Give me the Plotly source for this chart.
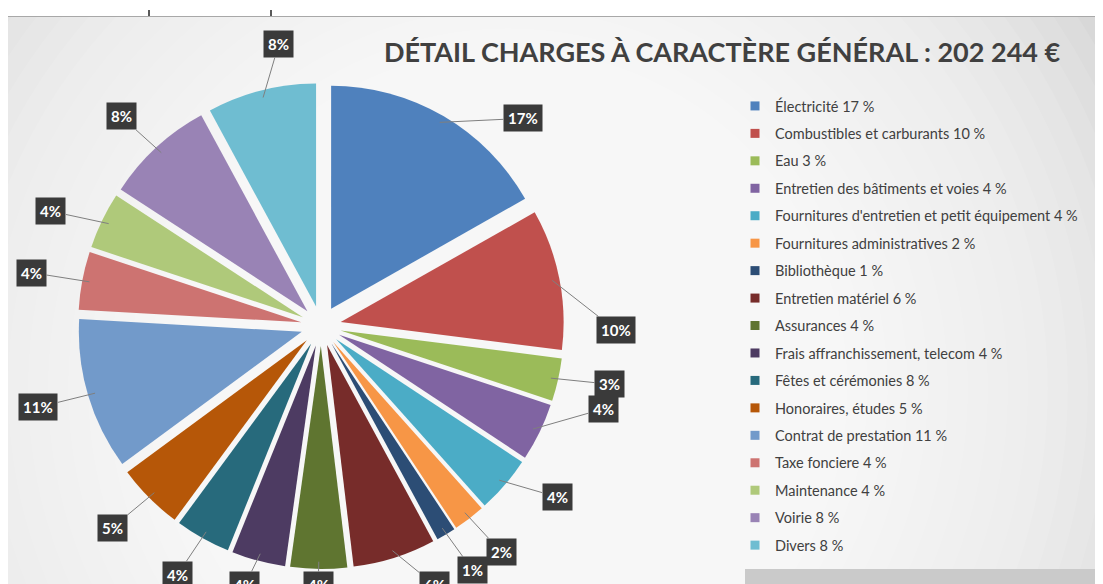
import math
import plotly.graph_objects as go

# ---------------- data ----------------
categories = [
    "Électricité", "Combustibles et carburants", "Eau", "Entretien des bâtiments et voies",
    "Fournitures d'entretien et petit équipement", "Fournitures administratives", "Bibliothèque",
    "Entretien matériel", "Assurances", "Frais affranchissement, telecom", "Fêtes et cérémonies",
    "Honoraires, études", "Contrat de prestation", "Taxe fonciere", "Maintenance", "Voirie", "Divers",
]
shares = [16.8, 10.2, 3.1, 4.2, 4.1, 2.3, 1.4, 6.0, 4.1, 3.9, 4.0, 4.8, 11.0, 4.2, 4.1, 7.9, 7.9]
legend_pct = [17, 10, 3, 4, 4, 2, 1, 6, 4, 4, 8, 5, 11, 4, 4, 8, 8]
title_text = "DÉTAIL CHARGES À CARACTÈRE GÉNÉRAL : 202 244 €"

# ---------------- style ----------------
colors = ["#4F81BD", "#C0504D", "#9BBB59", "#8064A2", "#4BACC6", "#F79646", "#2C4D75",
          "#772C2A", "#5F7530", "#4D3B62", "#276A7C", "#B65708", "#729ACA", "#CD7371",
          "#AFC97A", "#9983B5", "#6FBDD1"]
label_nudge = [13, 12, -1, -9, -4, 0, 0, -5, 0, 0, 0, 0, 0, 0, -2, 0, 6]

W, H = 1103, 584
CX, CY, R = 313, 318, 243          # pie centre / radius in pixels
RX, RY, YMAX = 295, 285, 577        # label ellipse and bottom clamp
PULL = 0.09

def px(x):
    return x / W

def py(y):
    return 1 - y / H

fig = go.Figure()

fig.add_trace(go.Pie(
    labels=categories, values=shares, sort=False, direction="clockwise", rotation=0,
    marker=dict(colors=colors, line=dict(width=0)),
    pull=[PULL] * len(shares), textinfo="none", hoverinfo="label+percent",
    showlegend=False,
    domain=dict(x=[px(CX - R), px(CX + R)], y=[py(CY + R), py(CY - R)]),
))

# legend entries (dummy traces so the spacing can be controlled)
for i, (c, p) in enumerate(zip(categories, legend_pct)):
    fig.add_trace(go.Scatter(
        x=[None], y=[None], mode="markers", name=f"{c} {p} %",
        marker=dict(symbol="square", size=9, color=colors[i]),
        legendgroup=f"g{i}", showlegend=True,
    ))

# data labels with leader lines
total = sum(shares)
annotations = []
cum = 0.0
for i, v in enumerate(shares):
    mid = (cum + v / 2) / total * 360
    cum += v
    ang = math.radians(mid)
    axp = CX + R * 0.97 * math.sin(ang)
    ayp = CY - R * 0.97 * math.cos(ang)
    la = math.radians(mid + label_nudge[i])
    lx = CX + RX * math.sin(la)
    ly = min(CY - RY * math.cos(la), YMAX)
    annotations.append(dict(
        x=px(axp), y=py(ayp), xref="paper", yref="paper",
        ax=lx - axp, ay=ly - ayp, axref="pixel", ayref="pixel",
        text=f"<b>{round(v / total * 100)}%</b>",
        showarrow=True, arrowhead=0, arrowwidth=1, arrowcolor="#7f7f7f", standoff=0,
        font=dict(family="Lato", size=15, color="white"),
        bgcolor="#3a3a3a", borderpad=4,
    ))

annotations.append(dict(
    x=px(714), y=py(44), xref="paper", yref="paper", showarrow=False,
    text=f"<b>{title_text}</b>", font=dict(family="Lato", size=27, color="#404040"),
    xanchor="center", yanchor="middle",
))

# background: radial-ish gradient using stacked translucent circles
shapes = []
gx, gy = 500, 380
for r in range(720, 80, -20):
    shapes.append(dict(type="circle", xref="paper", yref="paper", layer="below",
                       x0=px(gx - r), x1=px(gx + r), y0=py(gy + r), y1=py(gy - r),
                       fillcolor="rgba(255,255,255,0.1)", line=dict(width=0)))
# bottom-right strip
shapes.append(dict(type="rect", xref="paper", yref="paper", layer="below",
                   x0=px(737), x1=1, y0=0, y1=py(561),
                   fillcolor="#cacaca", line=dict(width=0)))
# top strip and ticks
shapes.append(dict(type="rect", xref="paper", yref="paper", layer="below",
                   x0=0, x1=1, y0=py(8), y1=1, fillcolor="white", line=dict(width=0)))
shapes.append(dict(type="line", xref="paper", yref="paper", layer="above",
                   x0=0, x1=1, y0=py(8.5), y1=py(8.5), line=dict(color="#a8a8a8", width=1)))
for tx in (141, 263):
    shapes.append(dict(type="line", xref="paper", yref="paper", layer="above",
                       x0=px(tx), x1=px(tx), y0=py(8), y1=py(2), line=dict(color="#222", width=1.5)))

fig.update_layout(
    width=W, height=H, margin=dict(l=0, r=0, t=0, b=0),
    paper_bgcolor="#d0d0d0", plot_bgcolor="rgba(0,0,0,0)",
    xaxis=dict(visible=False, domain=[0.99, 1.0]), yaxis=dict(visible=False, domain=[0.0, 0.01]),
    showlegend=True,
    legend=dict(x=px(727), xanchor="left", y=py(82), yanchor="top",
                font=dict(family="Lato", size=14.5, color="#404040"),
                bgcolor="rgba(0,0,0,0)", tracegroupgap=5.6, itemwidth=30),
    annotations=annotations, shapes=shapes,
    font=dict(family="Lato"),
)

fig.write_html("out.html")
